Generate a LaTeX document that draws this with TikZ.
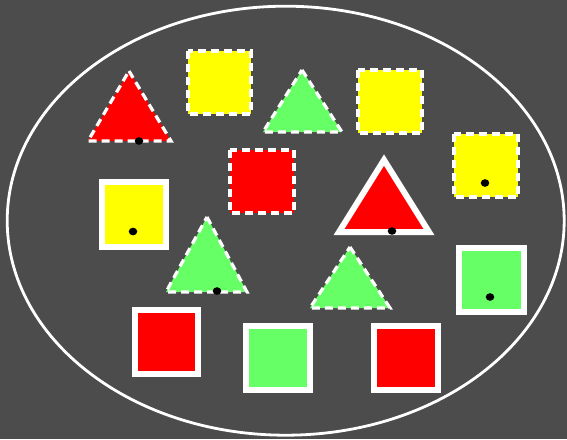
\documentclass[tikz,border=0pt]{standalone}
\begin{document}
\begin{tikzpicture}[x=1pt,y=-1pt,
  dashedshape/.style={draw=white,line width=3.2pt,dash pattern=on 8pt off 5pt,line join=miter},
  solidshape/.style={draw=white,line width=6pt,line join=miter},
  blackdot/.style={fill=black}]
\definecolor{bggray}{RGB}{76,76,76}
\definecolor{shred}{RGB}{255,0,0}
\definecolor{shyellow}{RGB}{255,255,0}
\definecolor{shgreen}{RGB}{102,255,102}
\useasboundingbox (0,0) rectangle (567,439);
\fill[bggray] (0,0) rectangle (567,439);
% ellipse
\draw[white,line width=2.8pt] (285.7,220.7) ellipse [x radius=278.5, y radius=214.5];
% dashed shapes
\path[dashedshape,fill=shred] (129,71) -- (171,141) -- (88,141) -- cycle;
\path[dashedshape,fill=shyellow] (188,51) rectangle (251,114);
\path[dashedshape,fill=shgreen] (302,70) -- (342,132) -- (263,132) -- cycle;
\path[dashedshape,fill=shyellow] (358,70) rectangle (422,133);
\path[dashedshape,fill=shyellow] (454,134) rectangle (518,197);
\path[dashedshape,fill=shred] (230,150) rectangle (294,213);
\path[dashedshape,fill=shgreen] (207,217) -- (247,292) -- (166,292) -- cycle;
\path[dashedshape,fill=shgreen] (350,247) -- (390,308) -- (310,308) -- cycle;
% solid shapes
\path[solidshape,fill=shred] (384,160) -- (429,232) -- (339,232) -- cycle;
\path[solidshape,fill=shyellow] (101.5,181.5) rectangle (166,246.5);
\path[solidshape,fill=shgreen] (459,247.5) rectangle (524,311.5);
\path[solidshape,fill=shred] (134.5,310) rectangle (198,374);
\path[solidshape,fill=shgreen] (246,326) rectangle (310,390);
\path[solidshape,fill=shred] (374,326) rectangle (438,390);
% dots
\fill[blackdot] (139,141) ellipse [x radius=4.3, y radius=3.8];
\fill[blackdot] (485,183) ellipse [x radius=4.3, y radius=3.8];
\fill[blackdot] (392,231) ellipse [x radius=4.3, y radius=3.8];
\fill[blackdot] (133,231.5) ellipse [x radius=4.3, y radius=3.8];
\fill[blackdot] (217,291) ellipse [x radius=4.3, y radius=3.8];
\fill[blackdot] (490,297) ellipse [x radius=4.3, y radius=3.8];
\end{tikzpicture}
\end{document}
